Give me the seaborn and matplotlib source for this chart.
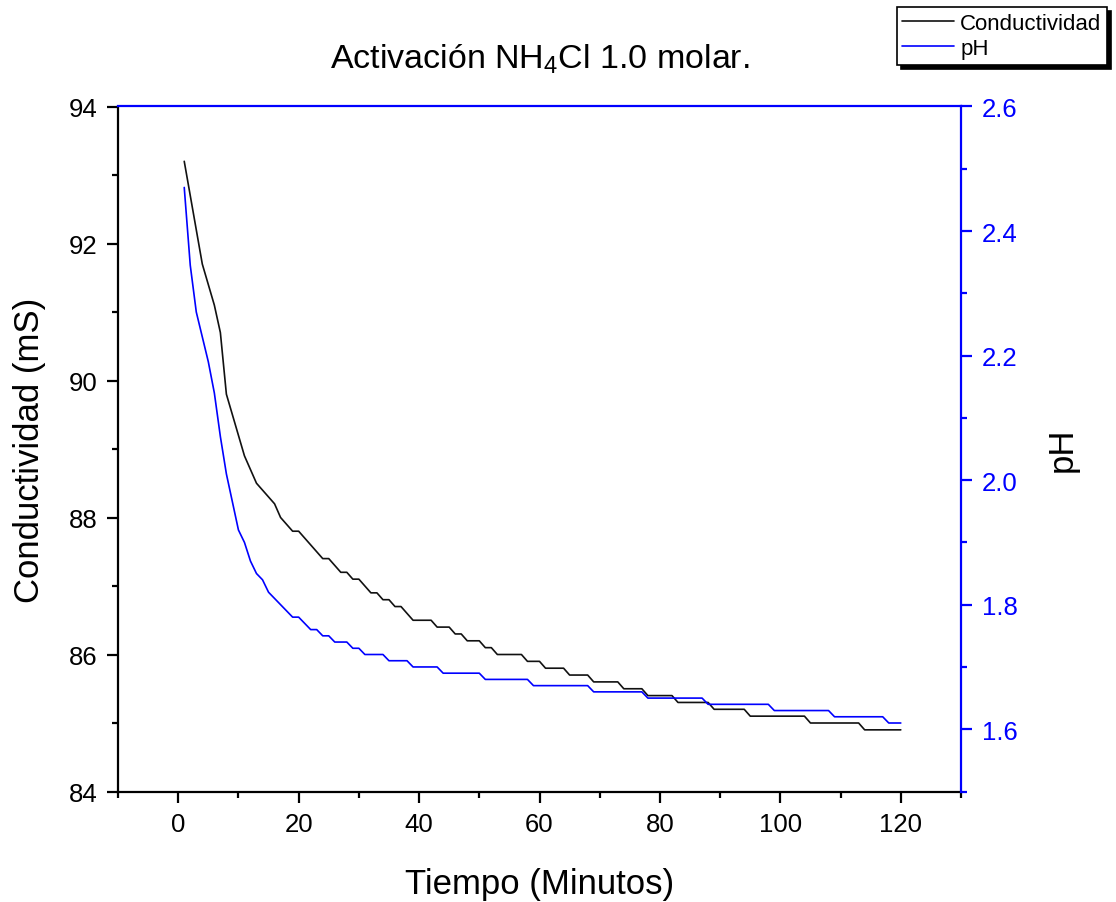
import numpy as np
import pandas as pd
import matplotlib
matplotlib.use("Agg")
import matplotlib.pyplot as plt
from matplotlib.ticker import MultipleLocator
import seaborn as sns

# ---- data ----
tiempo = list(range(1, 121))

conductividad = [
    93.2, 92.7, 92.2, 91.7, 91.4, 91.1, 90.7, 89.8, 89.5, 89.2,   # 1-10
    88.9, 88.7, 88.5, 88.4, 88.3, 88.2, 88.0, 87.9, 87.8, 87.8,   # 11-20
    87.7, 87.6, 87.5, 87.4, 87.4, 87.3, 87.2, 87.2, 87.1, 87.1,   # 21-30
    87.0, 86.9, 86.9, 86.8, 86.8, 86.7, 86.7, 86.6, 86.5, 86.5,   # 31-40
    86.5, 86.5, 86.4, 86.4, 86.4, 86.3, 86.3, 86.2, 86.2, 86.2,   # 41-50
    86.1, 86.1, 86.0, 86.0, 86.0, 86.0, 86.0, 85.9, 85.9, 85.9,   # 51-60
    85.8, 85.8, 85.8, 85.8, 85.7, 85.7, 85.7, 85.7, 85.6, 85.6,   # 61-70
    85.6, 85.6, 85.6, 85.5, 85.5, 85.5, 85.5, 85.4, 85.4, 85.4,   # 71-80
    85.4, 85.4, 85.3, 85.3, 85.3, 85.3, 85.3, 85.3, 85.2, 85.2,   # 81-90
    85.2, 85.2, 85.2, 85.2, 85.1, 85.1, 85.1, 85.1, 85.1, 85.1,   # 91-100
    85.1, 85.1, 85.1, 85.1, 85.0, 85.0, 85.0, 85.0, 85.0, 85.0,   # 101-110
    85.0, 85.0, 85.0, 84.9, 84.9, 84.9, 84.9, 84.9, 84.9, 84.9,   # 111-120
]

ph = [
    2.47, 2.345, 2.27, 2.23, 2.19, 2.14, 2.07, 2.01, 1.965, 1.92,  # 1-10
    1.90, 1.87, 1.85, 1.84, 1.82, 1.81, 1.80, 1.79, 1.78, 1.78,    # 11-20
    1.77, 1.76, 1.76, 1.75, 1.75, 1.74, 1.74, 1.74, 1.73, 1.73,    # 21-30
    1.72, 1.72, 1.72, 1.72, 1.71, 1.71, 1.71, 1.71, 1.70, 1.70,    # 31-40
    1.70, 1.70, 1.70, 1.69, 1.69, 1.69, 1.69, 1.69, 1.69, 1.69,    # 41-50
    1.68, 1.68, 1.68, 1.68, 1.68, 1.68, 1.68, 1.68, 1.67, 1.67,    # 51-60
    1.67, 1.67, 1.67, 1.67, 1.67, 1.67, 1.67, 1.67, 1.66, 1.66,    # 61-70
    1.66, 1.66, 1.66, 1.66, 1.66, 1.66, 1.66, 1.65, 1.65, 1.65,    # 71-80
    1.65, 1.65, 1.65, 1.65, 1.65, 1.65, 1.65, 1.64, 1.64, 1.64,    # 81-90
    1.64, 1.64, 1.64, 1.64, 1.64, 1.64, 1.64, 1.64, 1.63, 1.63,    # 91-100
    1.63, 1.63, 1.63, 1.63, 1.63, 1.63, 1.63, 1.63, 1.62, 1.62,    # 101-110
    1.62, 1.62, 1.62, 1.62, 1.62, 1.62, 1.62, 1.61, 1.61, 1.61,    # 111-120
]

x_ticks = [0, 20, 40, 60, 80, 100, 120]
y_left_ticks = [84, 86, 88, 90, 92, 94]
y_right_ticks = [1.6, 1.8, 2.0, 2.2, 2.4, 2.6]

title = "Activación NH$_4$Cl 1.0 molar."
xlabel = "Tiempo (Minutos)"
ylabel_left = "Conductividad (mS)"
ylabel_right = "pH"

df = pd.DataFrame({"Tiempo": tiempo, "Conductividad": conductividad, "pH": ph})

# ---- style ----
sns.set_style("ticks")
plt.rcParams["font.family"] = ["Liberation Sans", "DejaVu Sans"]
plt.rcParams["mathtext.fontset"] = "custom"
plt.rcParams["mathtext.rm"] = "Liberation Sans"
plt.rcParams["mathtext.it"] = "Liberation Sans"
plt.rcParams["mathtext.default"] = "regular"
plt.rcParams["text.color"] = "black"
plt.rcParams["axes.labelcolor"] = "black"
plt.rcParams["xtick.color"] = "black"
plt.rcParams["ytick.color"] = "black"

BLUE = "#0000FF"

fig = plt.figure(figsize=(11.16, 9.03), dpi=100)
ax = fig.add_axes([118 / 1116, 1 - 792.5 / 903, (961 - 118) / 1116, (792.5 - 107.5) / 903])
ax2 = ax.twinx()

sns.lineplot(data=df, x="Tiempo", y="Conductividad", ax=ax, color="#111111",
             linewidth=1.2, label="Conductividad", legend=False)
sns.lineplot(data=df, x="Tiempo", y="pH", ax=ax2, color=BLUE,
             linewidth=1.2, label="pH", legend=False)

ax.set_xlim(-10, 130)
ax.set_ylim(84, 94)
ax2.set_ylim(1.5, 2.6)

ax.set_xticks(x_ticks)
ax.set_yticks(y_left_ticks)
ax2.set_yticks(y_right_ticks)
ax.xaxis.set_minor_locator(MultipleLocator(10))
ax.yaxis.set_minor_locator(MultipleLocator(1))
ax2.yaxis.set_minor_locator(MultipleLocator(0.1))
ax2.set_yticklabels([f"{v:.1f}" for v in y_right_ticks])

for a in (ax, ax2):
    for s in a.spines.values():
        s.set_linewidth(1.6)
ax.spines["left"].set_color("black")
ax.spines["bottom"].set_color("black")
ax2.spines["right"].set_color(BLUE)
ax2.spines["top"].set_color(BLUE)
ax.spines["top"].set_visible(False)
ax.spines["right"].set_visible(False)
ax2.spines["left"].set_visible(False)
ax2.spines["bottom"].set_visible(False)

ax.tick_params(axis="both", which="major", direction="out", length=8, width=1.6,
               labelsize=18.5, colors="black", pad=7)
ax.tick_params(axis="both", which="minor", direction="out", length=4.5, width=1.6, colors="black")
ax2.tick_params(axis="y", which="major", direction="out", length=8, width=1.6,
                labelsize=18.5, colors=BLUE, pad=7)
ax2.tick_params(axis="y", which="minor", direction="out", length=4.5, width=1.6, colors=BLUE)

ax.set_xlabel(xlabel, fontsize=25, labelpad=22)
ax.set_ylabel(ylabel_left, fontsize=25, labelpad=16)
ax2.set_ylabel(ylabel_right, fontsize=25, labelpad=20, rotation=90, color="black")
ax.set_title(title, fontsize=24.5, pad=28)

handles = ax.get_lines()[:1] + ax2.get_lines()[:1]
leg = fig.legend(handles, ["Conductividad", "pH"], loc="upper right",
                 bbox_to_anchor=(0.992, 0.991), frameon=True, fancybox=False,
                 shadow={"color": "black", "alpha": 1.0, "ox": 3, "oy": -3},
                 edgecolor="black",
                 fontsize=16, handlelength=2.3, borderpad=0.25, labelspacing=0.2,
                 handletextpad=0.3, borderaxespad=0.0)
leg.get_frame().set_linewidth(1.2)

fig.savefig("out.png", dpi=100)
